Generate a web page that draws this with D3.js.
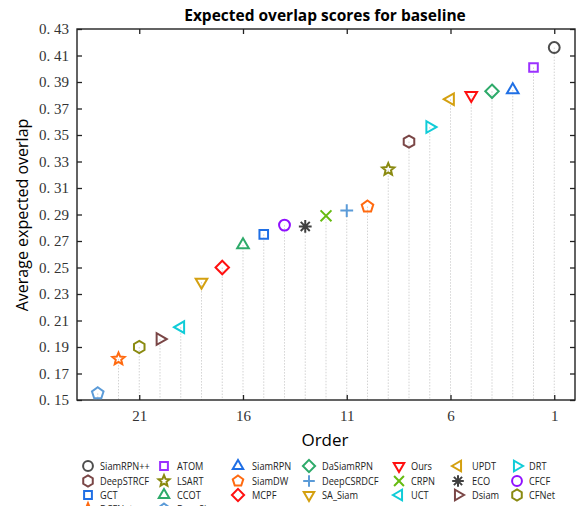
<!DOCTYPE html>
<html><head><meta charset="utf-8">
<script src="https://cdn.jsdelivr.net/npm/d3@7"></script>
<style>body{margin:0;background:#fff}svg{display:block}</style>
</head><body>
<svg id="c" width="579" height="506"></svg>
<script>
const trackers = ["SiamRPN++","ATOM","SiamRPN","DaSiamRPN","Ours","UPDT","DRT",
  "DeepSTRCF","LSART","SiamDW","DeepCSRDCF","CRPN","ECO","CFCF",
  "GCT","CCOT","MCPF","SA_Siam","UCT","Dsiam","CFNet",
  "DCFNet","DensSiam"];
const scores = [0.416,0.401,0.384,0.383,0.380,0.377,0.356,
  0.345,0.324,0.296,0.293,0.289,0.281,0.282,
  0.275,0.267,0.250,0.239,0.205,0.196,0.190,
  0.181,0.155];
const shapes = ["circle","square","triUp","diamond","triDown","triLeft","triRight",
  "hexagon","star","pentagon","plus","cross","asterisk","circle",
  "square","triUp","diamond","triDown","triLeft","triRight","hexagon",
  "star","pentagon"];
const colors = ["#4d4d4d","#9b30ff","#1f6fe5","#2eaa6a","#ff1010","#d4a010","#10ccd8",
  "#7a4646","#8a8a10","#ff6a10","#5b9bd8","#66bb10","#404040","#9010ff",
  "#1f6fe5","#2eaa6a","#ff1010","#d4a010","#10ccd8","#7a4646","#8a8a10",
  "#ff6a10","#5b9bd8"];
const xTicks = [21,16,11,6,1];
const yTicks = [0.15,0.17,0.19,0.21,0.23,0.25,0.27,0.29,0.31,0.33,0.35,0.37,0.39,0.41,0.43];

const svg = d3.select("#c");
const L=77, R=575, T=29, B=400;
const x = d3.scaleLinear().domain([24,0]).range([L,R]);
const y = d3.scaleLinear().domain([0.15,0.43]).range([B,T]);

function poly(n, r, rot){
  const p=[]; for(let i=0;i<n;i++){const a=rot+i*2*Math.PI/n; p.push([r*Math.cos(a), r*Math.sin(a)]);}
  return "M"+p.map(d=>d[0].toFixed(2)+","+d[1].toFixed(2)).join("L")+"Z";
}
function marker(shape, r){
  switch(shape){
    case "circle": return d3.symbol(d3.symbolCircle, Math.PI*r*r*0.72)();
    case "square": return poly(4, r*0.95, Math.PI/4);
    case "diamond": return poly(4, r*1.05, -Math.PI/2);
    case "triUp": return poly(3, r*1.05, -Math.PI/2);
    case "triDown": return poly(3, r*1.05, Math.PI/2);
    case "triLeft": return poly(3, r*1.05, Math.PI);
    case "triRight": return poly(3, r*1.05, 0);
    case "hexagon": return poly(6, r*0.95, -Math.PI/2);
    case "pentagon": return poly(5, r*0.95, -Math.PI/2);
    case "star": { const p=[]; for(let i=0;i<10;i++){const a=-Math.PI/2+i*Math.PI/5; const rr=i%2?r*0.45:r*1.0; p.push([rr*Math.cos(a), rr*Math.sin(a)]);} return "M"+p.map(d=>d[0].toFixed(2)+","+d[1].toFixed(2)).join("L")+"Z"; }
    case "plus": return `M${-r},0L${r},0M0,${-r}L0,${r}`;
    case "cross": { const k=r*0.85; return `M${-k},${-k}L${k},${k}M${-k},${k}L${k},${-k}`; }
    case "asterisk": { let s=""; for(let i=0;i<4;i++){const a=i*Math.PI/4; s+=`M${(-r*Math.cos(a)).toFixed(2)},${(-r*Math.sin(a)).toFixed(2)}L${(r*Math.cos(a)).toFixed(2)},${(r*Math.sin(a)).toFixed(2)}`;} return s; }
  }
}

// title
svg.append("text").attr("x",325).attr("y",21).attr("text-anchor","middle")
  .attr("font-family","Open Sans, sans-serif").attr("font-weight","bold").attr("font-size",15.5)
  .text("Expected overlap scores for baseline");

// drop lines
const data = trackers.map((n,i)=>({name:n, order:i+1, score:scores[i], shape:shapes[i], color:colors[i]}));
svg.append("g").selectAll("line").data(data).join("line")
  .attr("x1",d=>x(d.order)).attr("x2",d=>x(d.order))
  .attr("y1",d=>y(d.score)).attr("y2",B)
  .attr("stroke","#c8c8c8").attr("stroke-width",0.8).attr("stroke-dasharray","1.5,1.5");

// frame
svg.append("rect").attr("x",L).attr("y",T).attr("width",R-L).attr("height",B-T)
  .attr("fill","none").attr("stroke","#222").attr("stroke-width",1.4);

// axes
const fontSerif = "'Liberation Serif','DejaVu Serif',serif";
const yAxis = d3.axisLeft(y).tickValues(yTicks).tickSizeInner(-5).tickSizeOuter(0).tickPadding(8)
  .tickFormat(d=>"0. "+d3.format(".2f")(d).slice(2));
const gy = svg.append("g").attr("transform",`translate(${L},0)`).call(yAxis);
const yAxisR = d3.axisRight(y).tickValues(yTicks).tickSizeInner(-5).tickSizeOuter(0).tickFormat("");
const gyr = svg.append("g").attr("transform",`translate(${R},0)`).call(yAxisR);
const xAxis = d3.axisBottom(x).tickValues(xTicks).tickSizeInner(-5).tickSizeOuter(0).tickPadding(10).tickFormat(d3.format("d"));
const gx = svg.append("g").attr("transform",`translate(0,${B})`).call(xAxis);
const xAxisT = d3.axisTop(x).tickValues(xTicks).tickSizeInner(-5).tickSizeOuter(0).tickFormat("");
const gxt = svg.append("g").attr("transform",`translate(0,${T})`).call(xAxisT);
[gy,gyr,gx,gxt].forEach(g=>{
  g.select(".domain").remove();
  g.selectAll(".tick line").attr("stroke","#222").attr("stroke-width",1.3);
  g.selectAll("text").attr("font-family",fontSerif).attr("font-size",15).attr("fill","#333");
});

// markers
svg.append("g").selectAll("path").data(data).join("path")
  .attr("transform",d=>`translate(${x(d.order)},${y(d.score)})`)
  .attr("d",d=>marker(d.shape,6.4))
  .attr("fill","none").attr("stroke",d=>d.color).attr("stroke-width",2).attr("stroke-linejoin","miter");

// axis labels
svg.append("text").attr("x",325).attr("y",446).attr("text-anchor","middle")
  .attr("font-family","Open Sans, sans-serif").attr("font-size",17).text("Order");
svg.append("text").attr("transform","translate(28,215) rotate(-90)").attr("text-anchor","middle")
  .attr("font-family","Open Sans, sans-serif").attr("font-size",16).text("Average expected overlap");

// legend
const colMarkX = [88,164,238,309,399,458,517];
const colTextX = [100,177,252,322,411,472,529];
const rowY = [466,481,495,509];
const lg = svg.append("g");
data.forEach((d,i)=>{
  const r = Math.floor(i/7), c = i%7;
  lg.append("path").attr("transform",`translate(${colMarkX[c]},${rowY[r]})`)
    .attr("d",marker(d.shape,5.8)).attr("fill","none").attr("stroke",d.color).attr("stroke-width",2);
  lg.append("text").attr("transform",`translate(${colTextX[c]},${rowY[r]+4}) scale(0.84,1)`)
    .attr("font-family","Open Sans, sans-serif").attr("font-size",11).attr("fill","#222").text(d.name);
});
</script>
</body></html>
